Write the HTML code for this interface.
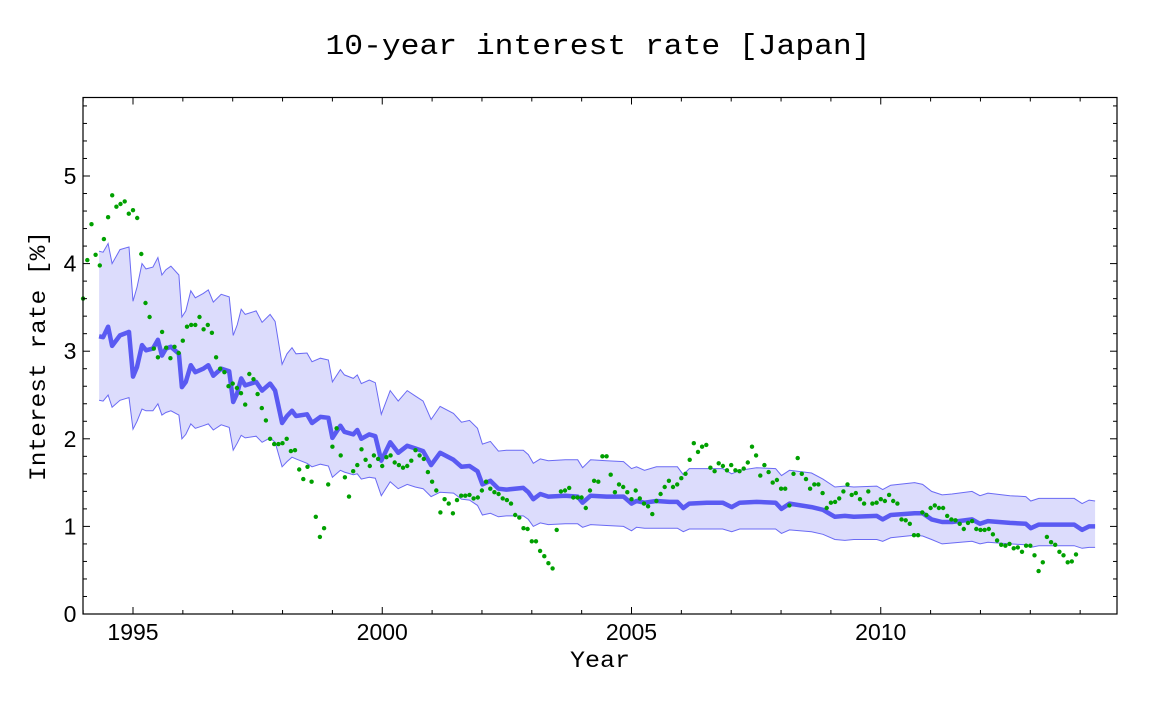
<!DOCTYPE html>
<html><head><meta charset="utf-8"><style>
html,body{margin:0;padding:0;background:#fff;}
svg{display:block;font-family:"Liberation Sans",sans-serif;}
.mono{font-family:"Liberation Mono",monospace;}
</style></head><body>
<svg id="chart" width="1152" height="703" viewBox="0 0 1152 703" xmlns="http://www.w3.org/2000/svg">
<text class="mono" x="598" y="54" font-size="29" text-anchor="middle" textLength="545" lengthAdjust="spacingAndGlyphs">10-year interest rate [Japan]</text>
<g id="plot"></g>
<text class="mono" x="600" y="667" font-size="23" text-anchor="middle" textLength="60" lengthAdjust="spacingAndGlyphs">Year</text>
<text class="mono" transform="translate(45,356) rotate(-90)" font-size="23" text-anchor="middle" textLength="250" lengthAdjust="spacingAndGlyphs">Interest rate [%]</text>
</svg>
<script>
const xTicks = [1995, 2000, 2005, 2010];
const yTicks = [0, 1, 2, 3, 4, 5];
const dotStartYear = 1994.0;
const dotValues = [3.6,4.04,4.45,4.1,3.98,4.28,4.53,4.78,4.65,4.68,4.71,4.57,4.61,4.52,4.11,3.55,3.39,3.03,2.93,3.22,3.04,2.92,3.05,2.98,3.12,3.28,3.30,3.30,3.39,3.25,3.30,3.21,2.93,2.80,2.76,2.60,2.63,2.58,2.52,2.39,2.74,2.68,2.51,2.35,2.21,2.0,1.94,1.94,1.95,2.0,1.86,1.87,1.65,1.54,1.68,1.51,1.11,0.88,0.98,1.48,1.91,2.12,1.81,1.56,1.34,1.63,1.70,1.88,1.76,1.69,1.81,1.77,1.69,1.79,1.81,1.73,1.70,1.67,1.69,1.75,1.87,1.81,
1.77,1.62,1.51,1.41,1.16,1.31,1.26,1.15,1.30,1.35,1.35,1.36,1.32,1.33,1.41,1.51,1.43,1.39,1.37,1.32,1.30,1.26,1.13,1.10,0.98,0.97,0.83,0.83,0.72,0.66,0.58,0.52,0.96,1.40,1.41,1.44,1.33,1.33,1.33,1.21,1.41,1.52,1.51,1.80,1.80,1.59,1.39,1.48,1.45,1.39,1.31,1.41,1.32,1.26,1.23,1.14,1.29,1.37,1.45,1.52,1.45,1.48,1.55,1.60,1.76,1.95,1.85,1.91,1.93,1.67,1.63,1.72,1.69,1.64,1.70,1.64,1.63,1.66,1.73,1.91,1.81,1.58,
1.70,1.62,1.50,1.53,1.43,1.43,1.24,1.60,1.78,1.60,1.54,1.43,1.48,1.48,1.38,1.21,1.27,1.28,1.32,1.40,1.48,1.36,1.38,1.31,1.26,1.40,1.26,1.27,1.31,1.29,1.36,1.29,1.26,1.08,1.07,1.03,0.90,0.90,1.16,1.13,1.21,1.24,1.21,1.21,1.12,1.08,1.07,1.03,0.97,1.04,1.06,0.97,0.96,0.96,0.97,0.91,0.84,0.79,0.78,0.80,0.75,0.76,0.71,0.78,0.78,0.67,0.49,0.59,0.88,0.82,0.79,0.71,0.67,0.59,0.60,0.68];
const fcYears = [1994.32,1994.40,1994.50,1994.58,1994.74,1994.92,1995.00,1995.08,1995.18,1995.26,1995.40,1995.50,1995.58,1995.66,1995.76,1995.92,1995.98,1996.06,1996.16,1996.25,1996.41,1996.51,1996.61,1996.77,1996.93,1997.01,1997.09,1997.17,1997.25,1997.47,1997.59,1997.75,1997.85,1997.99,1998.09,1998.19,1998.27,1998.49,1998.59,1998.76,1998.92,1999.00,1999.16,1999.24,1999.42,1999.50,1999.58,1999.74,1999.86,1999.98,2000.16,2000.32,2000.50,2000.66,2000.82,2000.98,2001.16,2001.43,2001.59,2001.75,2001.91,2002.01,2002.17,2002.33,2002.49,2002.83,2002.93,2003.03,2003.17,2003.33,2003.67,2003.92,2004.02,2004.18,2004.50,2004.84,2005.00,2005.10,2005.26,2005.50,2005.76,2005.92,2006.04,2006.16,2006.51,2006.83,2007.01,2007.17,2007.51,2007.89,2008.01,2008.17,2008.61,2008.84,2009.08,2009.28,2009.46,2009.92,2010.04,2010.20,2010.68,2010.84,2011.02,2011.23,2011.43,2011.83,2011.99,2012.15,2012.59,2012.91,2013.01,2013.17,2013.88,2014.04,2014.18,2014.30];
const fcMid = [3.17,3.16,3.28,3.06,3.18,3.22,2.71,2.82,3.07,3.01,3.03,3.13,2.95,3.03,3.05,2.97,2.59,2.65,2.84,2.76,2.80,2.84,2.72,2.80,2.77,2.42,2.52,2.69,2.61,2.65,2.55,2.63,2.55,2.18,2.26,2.32,2.26,2.28,2.18,2.25,2.24,2.01,2.15,2.08,2.05,2.10,2.00,2.05,2.03,1.75,1.96,1.84,1.92,1.89,1.86,1.70,1.84,1.76,1.68,1.69,1.63,1.48,1.52,1.43,1.42,1.44,1.39,1.31,1.37,1.34,1.35,1.34,1.27,1.35,1.34,1.34,1.26,1.29,1.27,1.29,1.28,1.28,1.21,1.26,1.27,1.27,1.22,1.27,1.28,1.27,1.20,1.26,1.22,1.19,1.11,1.12,1.11,1.12,1.08,1.13,1.15,1.15,1.08,1.05,1.05,1.08,1.03,1.06,1.04,1.03,0.98,1.02,1.02,0.96,1.00,1.00];
const fcUpper = [4.14,4.13,4.23,4.00,4.16,4.19,3.57,3.73,4.00,3.94,3.96,4.07,3.87,3.93,3.97,3.87,3.39,3.46,3.69,3.61,3.66,3.70,3.56,3.65,3.62,3.18,3.30,3.48,3.42,3.46,3.33,3.42,3.34,2.85,2.97,3.04,2.97,2.98,2.88,2.92,2.90,2.65,2.79,2.73,2.69,2.73,2.63,2.67,2.64,2.28,2.55,2.43,2.55,2.49,2.43,2.22,2.37,2.29,2.19,2.21,2.12,1.94,1.97,1.86,1.87,1.87,1.82,1.72,1.77,1.75,1.76,1.76,1.67,1.76,1.75,1.74,1.66,1.68,1.64,1.68,1.68,1.68,1.59,1.66,1.66,1.66,1.60,1.64,1.67,1.66,1.58,1.64,1.61,1.54,1.45,1.46,1.45,1.46,1.42,1.47,1.50,1.48,1.40,1.36,1.37,1.40,1.35,1.38,1.35,1.34,1.29,1.32,1.32,1.26,1.30,1.29];
const fcLower = [2.44,2.43,2.50,2.36,2.44,2.47,2.11,2.20,2.34,2.32,2.32,2.40,2.27,2.30,2.32,2.27,2.00,2.05,2.17,2.12,2.15,2.17,2.10,2.16,2.13,1.87,1.95,2.04,2.01,2.03,1.96,2.01,1.96,1.68,1.74,1.79,1.77,1.72,1.68,1.71,1.69,1.56,1.64,1.62,1.59,1.60,1.54,1.56,1.55,1.35,1.51,1.43,1.48,1.45,1.43,1.34,1.39,1.38,1.31,1.30,1.24,1.13,1.15,1.11,1.12,1.12,1.08,1.00,1.04,1.02,1.03,1.03,0.99,1.02,1.01,1.00,0.95,0.99,0.98,0.98,0.98,0.98,0.94,0.97,0.97,0.97,0.94,0.97,0.97,0.97,0.92,0.96,0.94,0.91,0.85,0.84,0.85,0.85,0.83,0.87,0.90,0.89,0.85,0.80,0.81,0.83,0.80,0.82,0.80,0.79,0.76,0.78,0.78,0.75,0.76,0.76];

const L=83, R=1117, T=97.5, B=614;
const xMin = 1995 - (133 - L) / 49.85, xMax = 1995 + (R - 133) / 49.85;
const yMin = 0, yMax = (B - T) / 87.6;
function sx(v){ return L + (v - xMin) / (xMax - xMin) * (R - L); }
function sy(v){ return B - (v - yMin) / (yMax - yMin) * (B - T); }
const NS='http://www.w3.org/2000/svg';
const plot=document.getElementById('plot');
function mk(tag, attrs){ const e=document.createElementNS(NS,tag); for(const k in attrs) e.setAttribute(k,attrs[k]); return e; }

let bp='';
fcYears.forEach((y,i)=>{ bp += (i?'L':'M')+sx(y).toFixed(1)+','+sy(fcUpper[i]).toFixed(1); });
for(let i=fcYears.length-1;i>=0;i--){ bp += 'L'+sx(fcYears[i]).toFixed(1)+','+sy(fcLower[i]).toFixed(1); }
bp+='Z';
const band=mk('path',{d:bp,fill:'#dcdcfc',stroke:'none'});


plot.appendChild(band);
function linePath(vals){ return fcYears.map((y,i)=>(i?'L':'M')+sx(y).toFixed(1)+','+sy(vals[i]).toFixed(1)).join(''); }
const up=mk('path',{d:linePath(fcUpper),fill:'none',stroke:'#6a6af4','stroke-width':1});


plot.appendChild(up);
const lo=mk('path',{d:linePath(fcLower),fill:'none',stroke:'#6a6af4','stroke-width':1});


plot.appendChild(lo);
const mid=mk('path',{d:linePath(fcMid),fill:'none',stroke:'#5a5af2','stroke-width':4.5,'stroke-linejoin':'round'});


plot.appendChild(mid);

dotValues.forEach((v,i)=>{
  const c=mk('circle',{cx:sx(dotStartYear+i/12).toFixed(1),cy:sy(v).toFixed(1),r:2.2,fill:'#00a000'});
  
  
  plot.appendChild(c);
});

const fr=mk('rect',{x:L,y:T,width:R-L,height:B-T,fill:'none',stroke:'#000','stroke-width':1.2});


plot.appendChild(fr);

for(let yr=1994; yr<=2014; yr++){
  const major = xTicks.indexOf(yr)>=0;
  const len = major?7:4;
  const x=sx(yr);
  const t1=mk('line',{x1:x,x2:x,y1:B,y2:B-len,stroke:'#000','stroke-width':1});
  
  
  plot.appendChild(t1);
  const t2=mk('line',{x1:x,x2:x,y1:T,y2:T+len,stroke:'#000','stroke-width':1});
  
  
  plot.appendChild(t2);
}
xTicks.forEach(yr=>{
  const t=mk('text',{x:sx(yr),y:640,'font-size':23,'text-anchor':'middle'});
  t.textContent=yr;
  
  
  plot.appendChild(t);
});
for(let k=0;k<=29;k++){
  const v=k*0.2;
  if(v>yMax) break;
  const major = k%5===0;
  const len = major?7:4;
  const y=sy(v);
  const a=mk('line',{x1:L,x2:L+len,y1:y,y2:y,stroke:'#000','stroke-width':1});
  
  
  plot.appendChild(a);
  const b=mk('line',{x1:R,x2:R-len,y1:y,y2:y,stroke:'#000','stroke-width':1});
  
  
  plot.appendChild(b);
}
yTicks.forEach(v=>{
  const t=mk('text',{x:70,y:sy(v)+8,'font-size':23,'text-anchor':'middle'});
  t.textContent=v;
  
  
  plot.appendChild(t);
});
</script>
</body></html>
